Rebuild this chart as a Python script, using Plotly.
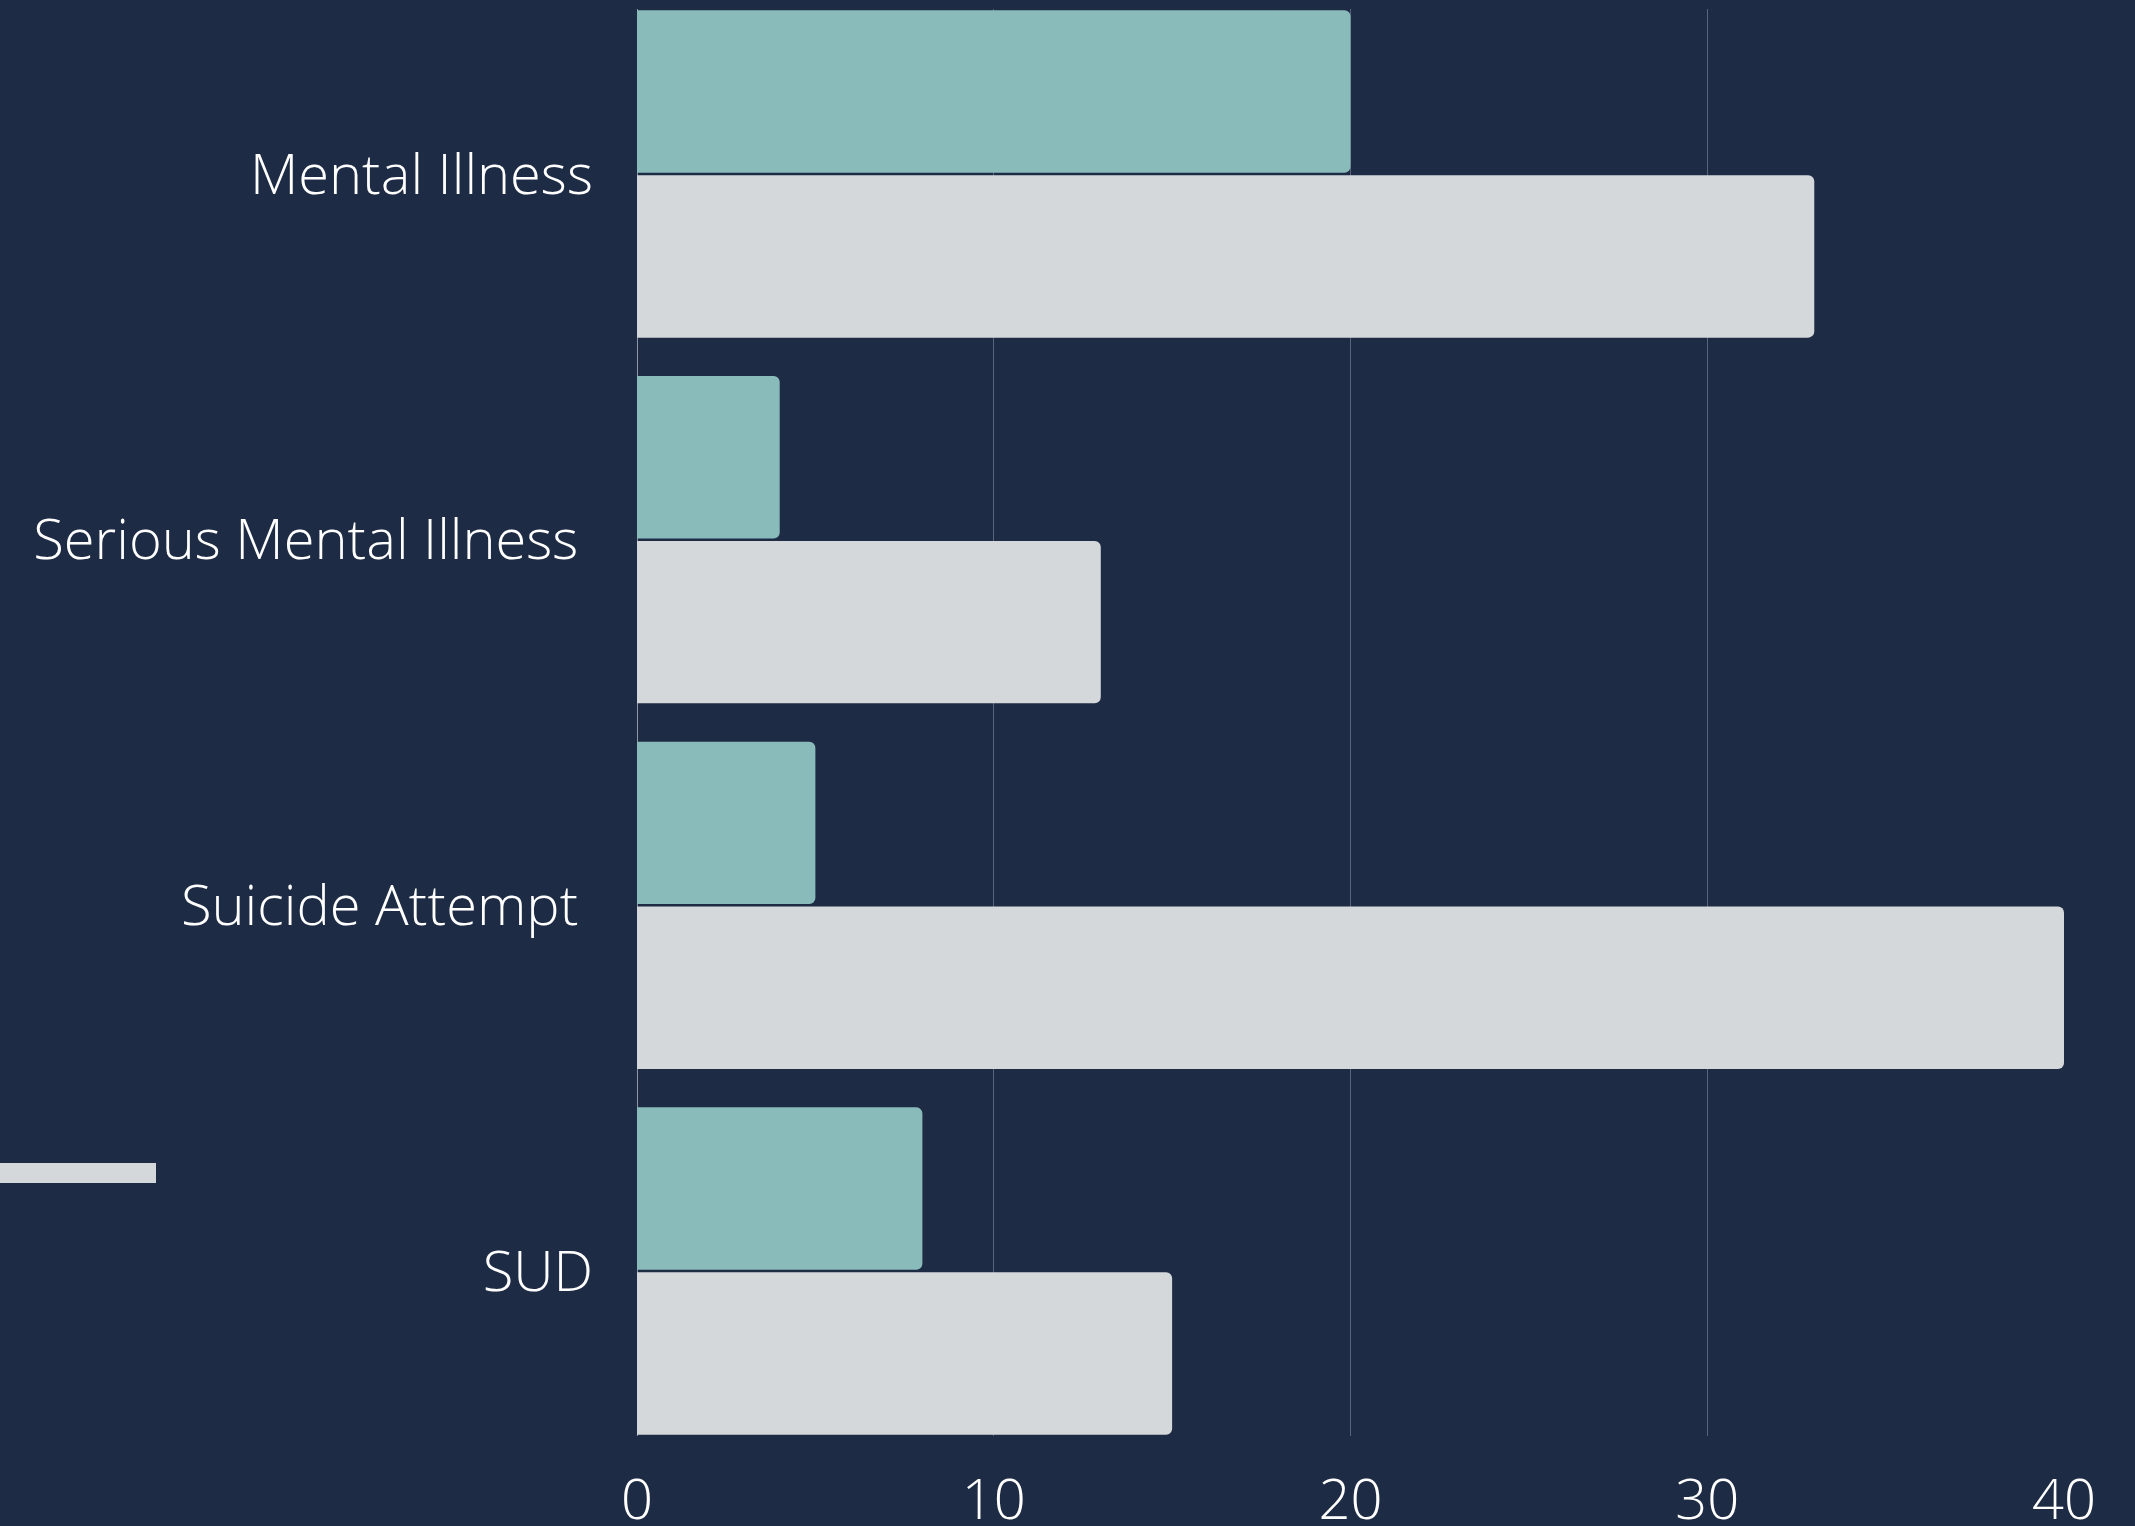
import plotly.graph_objects as go

categories = ["Mental Illness", "Serious Mental Illness", "Suicide Attempt", "SUD"]
tick_labels = ["Mental Illness", "Serious Mental Illness\u00a0", "Suicide Attempt\u00a0", "SUD"]
series_a = [20, 4, 5, 8]
series_b = [33, 13, 40, 15]
x_ticks = [0, 10, 20, 30, 40]

BG = "#1e2b44"
TEAL = "#8abbbb"
GREY = "#d4d8db"
FONT = "Open Sans Light, Open Sans"

BARGAP = 0.098

fig = go.Figure()
fig.add_trace(go.Bar(y=categories, x=series_a, orientation="h",
                     marker=dict(color=TEAL, line=dict(width=0)), showlegend=False))
fig.add_trace(go.Bar(y=categories, x=series_b, orientation="h",
                     marker=dict(color=GREY, line=dict(width=0)), showlegend=False))

fig.update_layout(
    width=2135, height=1526,
    paper_bgcolor=BG, plot_bgcolor=BG,
    margin=dict(l=637, r=71, t=9, b=90, autoexpand=False),
    barmode="group", bargap=BARGAP, bargroupgap=0.015,
    barcornerradius=6,
    font=dict(family=FONT, color="#ffffff", size=56, weight=300),
    showlegend=False,
)
fig.update_xaxes(
    range=[0, 40], tickvals=x_ticks, ticktext=[str(v) for v in x_ticks],
    showgrid=True, gridcolor="rgba(160,170,190,0.45)", gridwidth=1,
    zeroline=True, zerolinecolor="rgba(190,195,205,0.7)", zerolinewidth=1,
    showline=False, ticks="", ticklabelstandoff=26,
    tickfont=dict(family=FONT, size=56, color="#ffffff", weight=300),
)
n = len(categories)
fig.update_yaxes(
    range=[n - 0.5 - BARGAP / 2, -0.5 + BARGAP / 2],
    tickvals=categories, ticktext=tick_labels,
    showgrid=False, zeroline=False, showline=False, ticks="",
    ticklabelstandoff=43,
    tickfont=dict(family=FONT, size=56, color="#ffffff", weight=300),
)
fig.add_shape(type="rect", xref="paper", yref="paper",
              x0=-637/1427, x1=(156-637)/1427, y0=(1436-1183)/1427, y1=(1436-1163)/1427,
              fillcolor=GREY, line=dict(width=0), layer="above")

fig.write_html("out.html",
               config={"displayModeBar": False},
               post_script="document.documentElement.style.margin='0';document.body.style.margin='0';document.body.style.overflow='hidden';document.body.style.background='" + BG + "';")
